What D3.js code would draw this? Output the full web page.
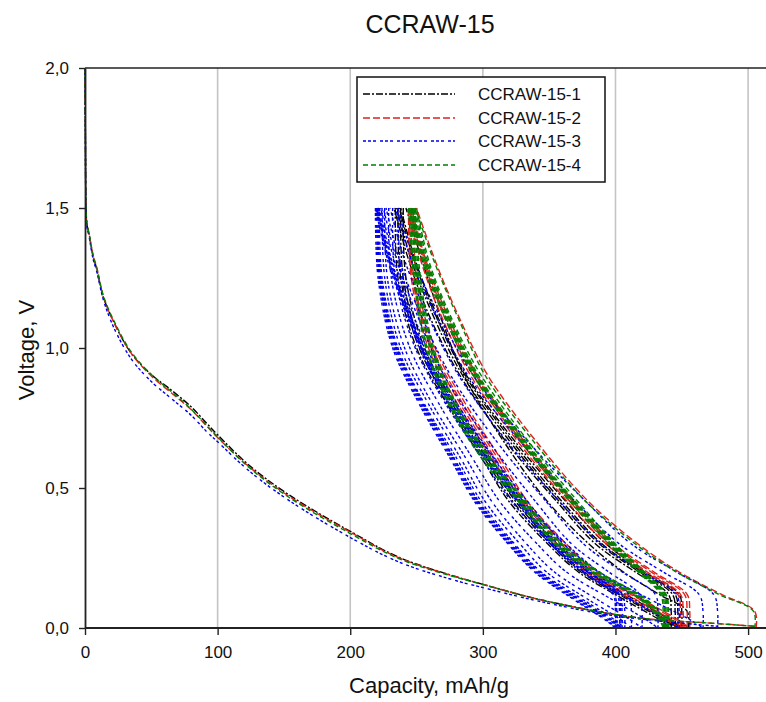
<!DOCTYPE html>
<html>
<head>
<meta charset="utf-8">
<script src="https://cdn.jsdelivr.net/npm/d3@7"></script>
<style>
  html, body { margin: 0; padding: 0; background: #fff; }
  svg { display: block; font-family: Arial, "Liberation Sans", sans-serif; }
</style>
</head>
<body>
<svg id="chart" width="766" height="702"></svg>
<script>
// ---------------- DATA ----------------
const chartTitle = "CCRAW-15";
const seriesNames = ["CCRAW-15-1", "CCRAW-15-2", "CCRAW-15-3", "CCRAW-15-4"];
const xTicks = [0, 100, 200, 300, 400, 500];
const yTicks = [0, 0.5, 1.0, 1.5, 2.0];

// voltage levels at which capacities of each cycle branch are read
const dischargeVolts = [1.5, 1.25, 1.0, 0.8, 0.6, 0.45, 0.3, 0.2, 0.1, 0.03, 0.0];
const chargeVolts    = [0.0, 0.06, 0.12, 0.2, 0.3, 0.45, 0.65, 0.9, 1.1, 1.3, 1.5];

// Series 1 (black)
const s1FirstDischarge = [[0,2.0],[0.3,1.75],[0.8,1.5],[1.5,1.44],[3,1.41],[6,1.33],[9,1.28],[14,1.18],[22,1.09],[35,0.98],[50,0.905],[65,0.85],[80,0.79],[92,0.73],[100,0.69],[124,0.58],[154,0.475],[199,0.348],[237,0.252],[282,0.18],[297,0.16],[340,0.105],[397,0.05],[430,0.028],[455,0.006]];
const s1Discharge = [
  [240,242,256,279,307,327,356,379,415,441,450],
  [238,240,254,277,304,325,353,376,412,438,447],
  [236,238,252,275,302,323,351,374,410,436,445],
  [234,236,250,273,300,320,349,372,407,433,442]
];
const s1Charge = [
  [455,454,433,406,380,349,318,286,269,255,242],
  [450,450,448,422,393,363,327,288,267,250,238],
  [447,447,445,420,390,360,325,287,266,249,237],
  [445,445,443,418,388,358,323,285,264,247,235],
  [442,442,440,415,385,356,320,283,261,245,233]
];

// Series 2 (red)
const s2FirstDischarge = [[0,2.0],[0.3,1.75],[0.8,1.5],[1.5,1.44],[3,1.41],[6,1.33],[9,1.28],[14,1.18],[22,1.09],[35,0.98],[50,0.9],[65,0.84],[80,0.78],[92,0.72],[100,0.68],[124,0.575],[154,0.47],[199,0.345],[237,0.25],[282,0.18],[297,0.16],[340,0.105],[397,0.05],[430,0.03],[470,0.018],[505,0.006]];
const s2Discharge = [
  [248,250,264,287,314,334,363,385,421,447,456],
  [246,248,262,285,312,332,361,383,419,445,454],
  [245,247,261,283,310,330,359,381,416,442,451],
  [244,246,259,281,308,328,356,378,413,438,449]
];
const s2Charge = [
  [506,505,480,448,417,380,343,304,283,265,250],
  [456,456,454,429,399,369,334,296,275,258,246],
  [454,454,452,427,397,368,332,295,273,257,245],
  [451,451,449,424,395,366,331,293,272,256,244],
  [449,449,447,422,393,364,329,291,270,254,243]
];

// Series 3 (blue)
const s3FirstDischarge = [[0,2.0],[0.3,1.75],[0.8,1.5],[1.5,1.43],[3,1.4],[6,1.32],[9,1.27],[14,1.17],[22,1.07],[35,0.96],[50,0.88],[65,0.82],[80,0.76],[92,0.7],[100,0.665],[124,0.56],[154,0.455],[199,0.326],[237,0.235],[282,0.166],[297,0.148],[340,0.098],[397,0.045],[440,0.022],[477,0.006]];
const s3Discharge = [
  [236,239,254,279,309,331,363,388,427,456,466],
  [232,234,249,272,300,322,351,375,412,438,448],
  [229,231,245,267,293,313,341,363,398,423,432],
  [226,228,241,262,288,307,333,354,387,411,420],
  [224,226,238,259,284,302,328,348,380,404,412],
  [222,224,236,256,281,299,324,344,376,399,407],
  [221,223,235,255,279,297,323,343,374,397,405],
  [220,222,234,254,278,296,321,341,372,395,403],
  [221,223,235,255,279,297,322,342,373,396,404],
  [220,222,233,253,277,295,320,340,370,393,401],
  [219,221,232,252,276,294,319,339,369,392,400]
];
const s3Charge = [
  [477,477,474,446,412,378,337,293,269,249,236],
  [466,466,463,436,403,370,331,289,266,247,234],
  [448,448,446,420,389,358,321,282,260,242,230],
  [432,432,430,405,376,348,313,276,255,238,227],
  [420,420,418,395,367,340,307,271,252,236,225],
  [412,412,410,387,361,334,302,268,249,234,223],
  [407,407,405,383,357,331,299,266,247,232,222],
  [405,405,403,381,355,329,298,265,246,231,221],
  [403,403,401,379,353,328,296,263,245,230,220],
  [404,404,402,380,354,329,297,264,246,231,221],
  [401,401,399,377,352,327,295,263,245,230,220],
  [400,400,398,376,351,326,294,262,244,229,219]
];

// Series 4 (green)
const s4FirstDischarge = [[0,2.0],[0.3,1.75],[0.8,1.5],[1.5,1.445],[3,1.41],[6,1.335],[9,1.285],[14,1.185],[22,1.095],[35,0.985],[50,0.905],[65,0.845],[80,0.782],[92,0.722],[100,0.682],[124,0.572],[154,0.466],[199,0.34],[237,0.247],[282,0.178],[297,0.159],[340,0.104],[397,0.05],[430,0.03],[470,0.018],[505,0.006]];
const s4Discharge = [
  [248,252,262,279,306,332,359,387,423,437,440],
  [249,253,263,280,307,333,360,388,424,437,440],
  [247,251,261,278,305,331,358,386,422,436,439],
  [246,250,260,276,303,329,356,384,421,435,438],
  [245,249,258,275,302,328,355,383,420,434,437],
  [244,248,257,274,300,327,354,382,419,433,436]
];
const s4Charge = [
  [505,504,478,446,415,378,341,302,282,264,249],
  [440,440,438,421,399,370,335,297,276,259,249],
  [440,440,438,422,400,372,337,299,277,260,250],
  [439,439,437,420,398,369,334,296,275,258,248],
  [438,438,436,419,397,368,333,295,274,257,247],
  [437,437,435,418,396,367,332,294,273,256,246],
  [436,436,434,417,395,366,331,293,272,255,245]
];

// ---------------- STYLES ----------------
const seriesColors = ["#000000", "#e0201c", "#0000ee", "#008000"];
const seriesDash = ["7,2,2,2", "7,3", "3,2,3,2,3,4", "5,3"];

// ---------------- CHART ----------------
const svg = d3.select("#chart");
const W = 766, H = 702;
const x = d3.scaleLinear().domain([0, 513.5]).range([85, 766]);
const y = d3.scaleLinear().domain([0, 2]).range([628, 68]);

// grid
svg.append("g").selectAll("line").data(xTicks.filter(d => d > 0)).join("line")
  .attr("x1", d => x(d)).attr("x2", d => x(d))
  .attr("y1", y(2)).attr("y2", y(0))
  .attr("stroke", "#c4c4c4").attr("stroke-width", 1.6);

// top frame
svg.append("line").attr("x1", x(0)).attr("x2", W).attr("y1", y(2)).attr("y2", y(2))
  .attr("stroke", "#222").attr("stroke-width", 1.5);

const series = [
  {first: s1FirstDischarge, dis: s1Discharge, chg: s1Charge},
  {first: s2FirstDischarge, dis: s2Discharge, chg: s2Charge},
  {first: s3FirstDischarge, dis: s3Discharge, chg: s3Charge},
  {first: s4FirstDischarge, dis: s4Discharge, chg: s4Charge}
];

const line = d3.line().x(d => x(d[0])).y(d => y(d[1])).curve(d3.curveCatmullRom.alpha(0.5));

const plot = svg.append("g");
series.forEach((s, i) => {
  const g = plot.append("g")
    .attr("fill", "none")
    .attr("stroke", seriesColors[i])
    .attr("stroke-width", 1.4)
    .attr("stroke-dasharray", seriesDash[i]);
  g.append("path").attr("d", line(s.first));
  s.chg.forEach(c => {
    g.append("path").attr("d", line(c.map((q, k) => [q, chargeVolts[k]])));
  });
  s.dis.forEach(c => {
    g.append("path").attr("d", line(c.map((q, k) => [q, dischargeVolts[k]])));
  });
});

// axes
const fmt = d => d3.format(".1f")(d).replace(".", ",");
const xAxis = svg.append("g").attr("transform", `translate(0,${y(0)})`)
  .call(d3.axisBottom(x).tickValues(xTicks).tickSize(7).tickSizeOuter(0).tickPadding(11));
const yAxis = svg.append("g").attr("transform", `translate(${x(0)},0)`)
  .call(d3.axisLeft(y).tickValues(yTicks).tickFormat(fmt).tickSize(6).tickSizeOuter(0).tickPadding(10));
[xAxis, yAxis].forEach(a => {
  a.select(".domain").attr("stroke", "#222").attr("stroke-width", 1.8);
  a.selectAll(".tick line").attr("stroke", "#222").attr("stroke-width", 1.4);
  a.selectAll(".tick text").attr("font-size", 17).attr("fill", "#111")
    .attr("font-family", "Arial, 'Liberation Sans', sans-serif");
});
xAxis.select(".domain").attr("d", `M${x(0)},0H${W}`);

// titles
svg.append("text").attr("x", 430).attr("y", 33).attr("text-anchor", "middle")
  .attr("font-size", 25).attr("fill", "#111").text(chartTitle);
svg.append("text").attr("x", 429).attr("y", 693).attr("text-anchor", "middle")
  .attr("font-size", 22).attr("fill", "#111").text("Capacity, mAh/g");
svg.append("text").attr("transform", "translate(34,350) rotate(-90)").attr("text-anchor", "middle")
  .attr("font-size", 22).attr("fill", "#111").text("Voltage, V");

// legend
const lg = svg.append("g");
lg.append("rect").attr("x", 357).attr("y", 77).attr("width", 248).attr("height", 105)
  .attr("fill", "#fff").attr("stroke", "#111").attr("stroke-width", 1.5);
const rowY = [94, 118, 141, 165];
seriesNames.forEach((n, i) => {
  lg.append("line").attr("x1", 363).attr("x2", 455).attr("y1", rowY[i]).attr("y2", rowY[i])
    .attr("stroke", seriesColors[i]).attr("stroke-width", 1.4).attr("stroke-dasharray", seriesDash[i]);
  lg.append("text").attr("x", 478).attr("y", rowY[i] + 6).attr("font-size", 17).attr("fill", "#111").text(n);
});
</script>
</body>
</html>
